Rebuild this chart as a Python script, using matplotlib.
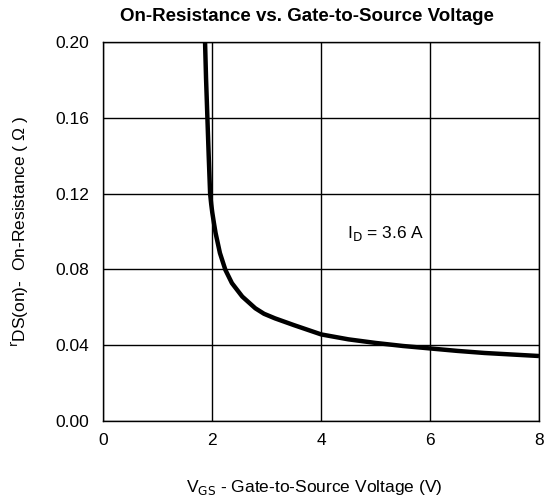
import matplotlib
matplotlib.use("Agg")
import matplotlib.pyplot as plt

# gate-to-source voltage (V) and on-resistance (ohm)
vgs = [1.867, 1.885, 1.91, 1.934, 1.96, 1.98, 2.0, 2.03, 2.06, 2.14, 2.24,
       2.36, 2.55, 2.79, 2.95, 3.15, 3.5, 4.0, 4.5, 5.0, 5.5, 6.0, 6.5,
       7.0, 7.5, 8.0]
rds = [0.200, 0.181, 0.160, 0.140, 0.120, 0.1145, 0.110, 0.1045, 0.0993,
       0.0887, 0.0798, 0.0728, 0.0657, 0.0595, 0.0566, 0.0542, 0.0506,
       0.0457, 0.0431, 0.0412, 0.0396, 0.0383, 0.0370, 0.0359, 0.0351,
       0.0343]

x_ticks = [0, 2, 4, 6, 8]
y_ticks = [0.00, 0.04, 0.08, 0.12, 0.16, 0.20]

plt.rcParams["font.family"] = ["Liberation Sans", "DejaVu Sans"]
fs = 12.5

fig = plt.figure(figsize=(5.5, 4.97), dpi=100)
ax = fig.add_axes([0.188, 0.153, 0.792, 0.762])

ax.plot(vgs, rds, color="black", lw=3.2, solid_capstyle="butt",
        solid_joinstyle="round", zorder=3)

ax.set_xlim(0, 8)
ax.set_ylim(0, 0.20)
ax.set_xticks(x_ticks)
ax.set_yticks(y_ticks)
ax.set_yticklabels(["%.2f" % v for v in y_ticks])
ax.grid(True, color="black", lw=1.0)
ax.tick_params(length=0, labelsize=fs)
ax.tick_params(axis="x", pad=9)
ax.tick_params(axis="y", pad=10)
for s in ax.spines.values():
    s.set_linewidth(1.0)

ax.text(4.47, 0.099, "I$_\\mathrm{D}$ = 3.6 A", fontsize=fs, va="center",
        bbox=dict(facecolor="white", edgecolor="none", pad=2), zorder=4)

# title and x label sit a little left of the axes centre in the original
ax.set_title("On-Resistance vs. Gate-to-Source Voltage", fontsize=13.5,
             fontweight="bold", pad=15, x=0.467)
ax.set_xlabel("V$_\\mathrm{GS}$ - Gate-to-Source Voltage (V)", fontsize=fs,
              labelpad=21, x=0.484)
ax.set_ylabel("$^\\mathrm{r}$DS(on)-  On-Resistance ( \u03a9 )", fontsize=fs,
              labelpad=18)

fig.savefig("out.png", dpi=100)
